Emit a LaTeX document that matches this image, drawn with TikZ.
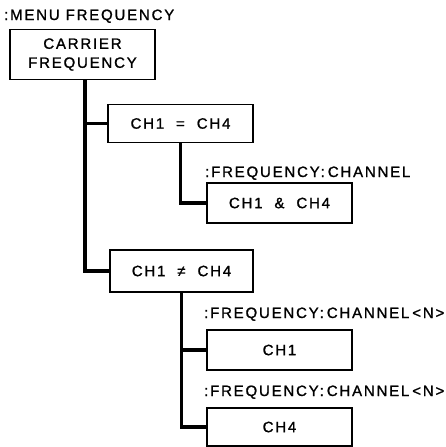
\documentclass[tikz,border=0pt]{standalone}
\usepackage{fontspec}
\setmainfont{Liberation Sans}[LetterSpace=12,FakeBold=1.2]
\begin{document}
\begin{tikzpicture}[x=1pt,y=-1pt,
  box/.style={draw, line width=1.6pt, minimum height=38pt, inner sep=0pt, font=\fontsize{15}{17}\selectfont},
  lbl/.style={anchor=base west, inner sep=0pt, font=\fontsize{15}{17}\selectfont},
  conn/.style={line width=3.5pt}]
\useasboundingbox (0,0) rectangle (445,447);
\node[lbl] (menu) at (4,20) {:MENU FREQUENCY};
\node[draw, line width=1.6pt, minimum width=145pt, minimum height=50pt, inner sep=0pt, align=center,
  font=\fontsize{15}{19}\selectfont] (car) at (82.5,54.5) {CARRIER\\FREQUENCY};
\coordinate (trunk) at ([xshift=2.5pt]car.south);
\node[box, minimum width=145pt] (eq) at (180.5,123.5) {CH1 \ = \ CH4};
\node[lbl] (l1) at (205,177) {:FREQUENCY:\hspace{3pt}CHANNEL};
\node[box, minimum width=145pt, minimum height=40pt] (amp) at (279.5,203) {CH1 \ \& \ CH4};
\node[box, minimum width=143pt, minimum height=42pt] (ne) at (181.5,271) {CH1 \ ≠ \ CH4};
\node[lbl] (l2) at (204,318) {:FREQUENCY:\hspace{3pt}CHANNEL\hspace{3pt}<N>};
\node[box, minimum width=145pt, minimum height=40pt] (c1) at (279.5,350) {CH1};
\node[lbl] (l3) at (204,396) {:FREQUENCY:\hspace{3pt}CHANNEL\hspace{3pt}<N>};
\node[box, minimum width=145pt, minimum height=38pt] (c4) at (279.5,427) {CH4};
\draw[conn] (trunk) |- (ne.west);
\draw[conn] (trunk |- eq.west) -- (eq.west);
\draw[conn] (eq.south) |- (amp.west);
\draw[conn] (ne.south) |- (c4.west);
\draw[conn] (ne.south |- c1.west) -- (c1.west);
\end{tikzpicture}
\end{document}
